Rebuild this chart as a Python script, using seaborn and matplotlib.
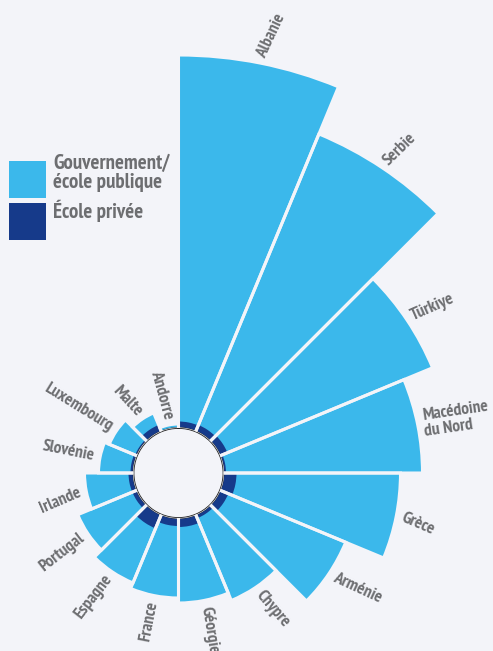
import numpy as np
import matplotlib
matplotlib.use("Agg")
import matplotlib.pyplot as plt
import seaborn as sns
from matplotlib.patches import Rectangle

countries = ["Albanie", "Serbie", "Türkiye", "Macédoine\ndu Nord", "Grèce", "Arménie",
             "Chypre", "Géorgie", "France", "Espagne", "Portugal", "Irlande",
             "Slovénie", "Luxembourg", "Malte", "Andorre"]
private = [6.5, 7, 8, 2.5, 13, 9, 4, 9, 8, 15, 5, 5, 3, 2, 7, 0]
public = [366.5, 315, 222, 196.5, 164, 127, 89, 76, 72, 59, 59, 44, 32, 28, 13, 4]
legend_labels = ["Gouvernement/\nécole publique", "École privée"]

# small hand tweaks of label angle (degrees) relative to the radial direction
label_rot_offset = [-14, -12, -10, -3, -12, 9, 7, -2, 0, -4, 4, 12, 0, 2, 9, 4]

BG = "#f3f4f9"
LIGHT = "#3bb8eb"
DARK = "#163a8a"
GREY = "#6d6e71"

sns.set_theme(style="white")
plt.rcParams["font.family"] = ["PT Sans Narrow", "DejaVu Sans"]

W, H = 493, 651
fig = plt.figure(figsize=(W / 100, H / 100), dpi=100, facecolor=BG)

cx, cy = 178.5, H - 473.0
R = 430.0
inner = 45.0
ax = fig.add_axes([(cx - R) / W, (cy - R) / H, 2 * R / W, 2 * R / H], projection="polar")
ax.set_facecolor("none")
ax.set_theta_zero_location("N")
ax.set_theta_direction(-1)
ax.set_ylim(0, R - inner)
ax.set_rorigin(-inner)
ax.grid(False)
ax.set_xticks([])
ax.set_yticks([])
ax.spines["polar"].set_visible(False)

n = len(countries)
step = 2 * np.pi / n
theta = np.arange(n) * step + step / 2
private = np.array(private, dtype=float)
public = np.array(public, dtype=float)
total = private + public

ax.bar(theta, total, width=step, bottom=0, color=LIGHT, linewidth=0, zorder=1)
ax.bar(theta, private, width=step, bottom=0, color=DARK, linewidth=0, zorder=2)
ax.bar(theta, total + 1, width=step, bottom=-1, fill=False, edgecolor=BG, linewidth=2.2, zorder=3)

for t, v, name, off in zip(theta, total, countries, label_rot_offset):
    a = np.degrees(t)
    if a < 180:
        rot, ha = 90 - a + off, "left"
    else:
        rot, ha = 270 - a + off, "right"
    ax.text(t, v + 6, name, rotation=rot, rotation_mode="anchor", ha=ha, va="center",
            ma="left", fontsize=12.5, fontweight="bold", color=GREY, linespacing=1.0, zorder=5)

# legend
for (y0, col) in [(161, LIGHT), (203, DARK)]:
    fig.add_artist(Rectangle((9 / W, 1 - (y0 + 36.5) / H), 36.5 / W, 36.5 / H,
                             transform=fig.transFigure, facecolor=col, edgecolor="none"))
fig.text(53 / W, 1 - 154 / H, legend_labels[0], ha="left", va="top", fontsize=15,
         fontweight="bold", color=GREY, linespacing=1.0)
fig.text(53 / W, 1 - 200 / H, legend_labels[1], ha="left", va="top", fontsize=15,
         fontweight="bold", color=GREY)

fig.savefig("out.png", dpi=100, facecolor=BG)
